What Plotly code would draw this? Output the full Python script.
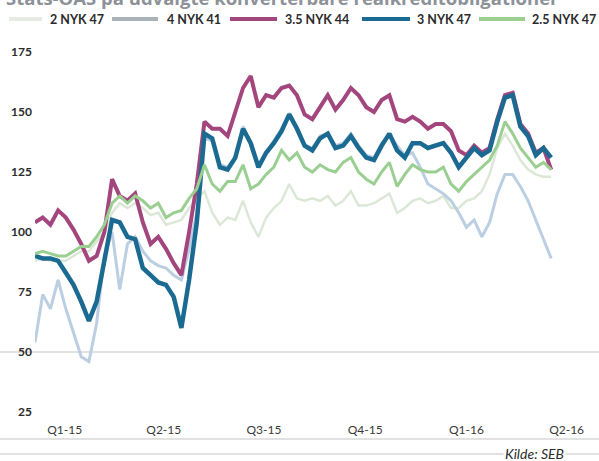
import pandas as pd
import plotly.graph_objects as go

# Weekly observations, Dec 2014 - Mar 2016 (basis points over government bonds)
dates = pd.date_range("2014-12-05", periods=68, freq="7D")

nyk_2_47 = [88, 89, 88, 88, 88, 90, 92, 92, 96, 100,
            108, 112, 110, 112, 110, 107, 108, 103, 104, 105,
            110, 114, 117, 108, 103, 106, 105, 113, 104, 98,
            106, 110, 113, 120, 114, 113, 114, 113, 115, 111,
            113, 117, 111, 111, 112, 114, 116, 108, 110, 113,
            114, 112, 113, 115, 110, 110, 113, 114, 117, 124,
            135, 141, 136, 130, 126, 124, 123, 123]

nyk_4_41 = [54, 74, 68, 80, 68, 58, 48, 46, 62, 90,
            100, 76, 95, 98, 92, 88, 86, 85, 82, 80,
            93, 108, 139, 138, 128, 127, 131, 144, 137, 128,
            133, 138, 143, 149, 144, 136, 135, 140, 141, 136,
            137, 141, 136, 132, 131, 137, 140, 136, 132, 133,
            127, 120, 118, 116, 113, 108, 102, 105, 98, 104,
            116, 124, 124, 119, 113, 105, 97, 89]

nyk_35_44 = [104, 106, 103, 109, 106, 101, 95, 88, 90, 100,
             122, 115, 113, 116, 104, 95, 98, 93, 87, 82,
             100, 120, 146, 143, 143, 140, 150, 160, 165, 152,
             157, 156, 160, 161, 157, 149, 147, 152, 157, 151,
             155, 160, 157, 152, 150, 155, 157, 147, 146, 148,
             146, 143, 145, 145, 142, 134, 132, 136, 133, 135,
             147, 157, 158, 145, 141, 133, 135, 126]

nyk_3_47 = [90, 89, 89, 88, 83, 78, 71, 63, 71, 88,
            105, 104, 98, 97, 85, 82, 79, 78, 73, 60,
            80, 104, 141, 139, 127, 126, 131, 143, 137, 127,
            133, 137, 142, 149, 143, 136, 134, 139, 141, 135,
            136, 140, 135, 131, 130, 136, 141, 134, 131, 137,
            137, 135, 136, 137, 133, 127, 131, 135, 132, 134,
            146, 156, 157, 144, 140, 132, 135, 131]

nyk_25_47 = [91, 92, 91, 90, 90, 92, 94, 94, 98, 103,
             112, 115, 112, 115, 113, 110, 112, 106, 108, 109,
             114, 118, 128, 120, 117, 121, 121, 128, 118, 120,
             124, 127, 134, 130, 133, 127, 125, 128, 126, 125,
             129, 131, 125, 122, 120, 125, 129, 119, 124, 128,
             126, 125, 125, 127, 120, 117, 121, 124, 127, 130,
             136, 146, 141, 135, 131, 127, 129, 126]

names = ["2 NYK 47", "4 NYK 41", "3.5 NYK 44", "3 NYK 47", "2.5 NYK 47"]
values = [nyk_2_47, nyk_4_41, nyk_35_44, nyk_3_47, nyk_25_47]
colors = ["#dce8d7", "#bccee1", "#a3467e", "#1b6a92", "#9bcf92"]
swatch_colors = ["#e6ece4", "#aab2b9", "#a3467e", "#1b6a92", "#9bcf92"]
widths = [2.5, 3, 4, 4.5, 3]

quarter_ticks = ["2015-01-01", "2015-04-01", "2015-07-01", "2015-10-01",
                 "2016-01-01", "2016-04-01"]
quarter_labels = ["Q1-15", "Q2-15", "Q3-15", "Q4-15", "Q1-16", "Q2-16"]
y_ticks = [25, 50, 75, 100, 125, 150, 175]

FONT = "Lato"
W, H = 599, 461
ML, MR, MT, MB = 35, 28, 52, 49
plot_w = W - ML - MR
plot_h = H - MT - MB


def px_x(x):
    """Container pixel -> paper x."""
    return (x - ML) / plot_w


def px_y(y):
    """Container pixel (from top) -> paper y."""
    return (H - MB - y) / plot_h


fig = go.Figure()
for name, vals, color, width in zip(names, values, colors, widths):
    fig.add_trace(go.Scatter(
        x=dates, y=vals, name=name, mode="lines",
        line=dict(color=color, width=width), showlegend=False,
    ))

shapes = [
    # reference line at 50 spanning the full width
    dict(type="line", xref="paper", yref="y",
         x0=px_x(0), x1=px_x(W), y0=50, y1=50,
         line=dict(color="#d9d9d9", width=1.5), layer="below"),
    # separator beneath the quarter labels
    dict(type="line", xref="paper", yref="paper",
         x0=px_x(0), x1=px_x(W), y0=px_y(439), y1=px_y(439),
         line=dict(color="#d9d9d9", width=1.5), layer="below"),
    # bottom rule
    dict(type="line", xref="paper", yref="paper",
         x0=px_x(0), x1=px_x(W), y0=px_y(454), y1=px_y(454),
         line=dict(color="#d9d9d9", width=1.5), layer="below"),
]

annotations = [
    dict(text="<b>Stats-OAS på udvalgte konverterbare realkreditobligationer</b>",
         xref="paper", yref="paper", x=px_x(4), y=px_y(-3),
         xanchor="left", yanchor="middle", showarrow=False,
         font=dict(family="Open Sans", size=18.5, color="#8d9298")),
    dict(text="<i>Kilde: SEB</i>",
         xref="paper", yref="paper", x=px_x(566), y=px_y(453),
         xanchor="right", yanchor="middle", showarrow=False,
         bgcolor="white", borderpad=1,
         font=dict(family=FONT, size=14, color="#2b2b2b")),
]

# Legend row across the top
legend_text_x = [48, 165, 283, 415, 530]
legend_swatch = [(9, 42), (112, 158), (230, 277), (362, 410), (479, 525)]
legend_y = 19
for name, sc, tx, (s0, s1) in zip(names, swatch_colors, legend_text_x, legend_swatch):
    shapes.append(dict(type="line", xref="paper", yref="paper",
                       x0=px_x(s0), x1=px_x(s1), y0=px_y(legend_y), y1=px_y(legend_y),
                       line=dict(color=sc, width=4)))
    annotations.append(dict(text=f"<b>{name}</b>", xref="paper", yref="paper",
                            x=px_x(tx), y=px_y(legend_y), xanchor="left",
                            yanchor="middle", showarrow=False,
                            font=dict(family=FONT, size=12.5, color="#2b2b2b")))

fig.update_layout(
    width=W, height=H,
    margin=dict(l=ML, r=MR, t=MT, b=MB, autoexpand=False),
    paper_bgcolor="white", plot_bgcolor="white",
    font=dict(family=FONT, size=12, color="#2b2b2b"),
    showlegend=False,
    xaxis=dict(
        range=["2014-12-05", "2016-04-05"],
        tickvals=quarter_ticks, ticktext=quarter_labels,
        showgrid=False, zeroline=False, showline=False,
        ticks="outside", ticklen=7, tickcolor="rgba(0,0,0,0)",
        tickfont=dict(family=FONT, size=12, color="#3a3a3a"),
    ),
    yaxis=dict(
        range=[25, 175], tickvals=y_ticks,
        showgrid=False, zeroline=False, showline=False,
        ticks="", ticklabelstandoff=2,
        tickfont=dict(family=FONT, size=12, color="#2b2b2b", weight="bold"),
    ),
    shapes=shapes,
    annotations=annotations,
)

fig.write_html("out.html")
